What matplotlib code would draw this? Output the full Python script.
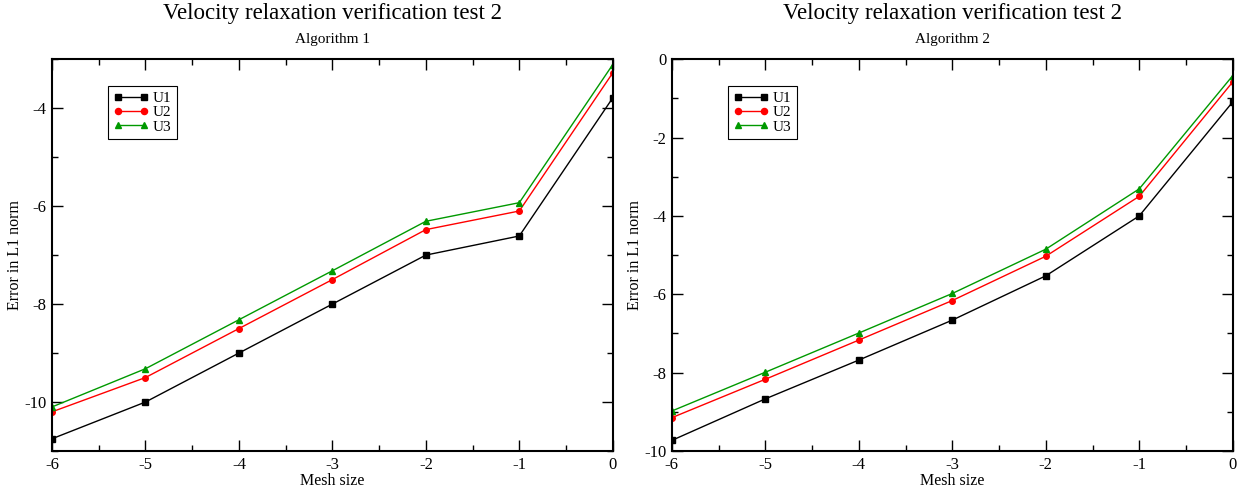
import matplotlib
matplotlib.use("Agg")
from matplotlib import pyplot as plt
from matplotlib.ticker import MultipleLocator

plt.rcParams['font.family'] = ['Liberation Serif', 'DejaVu Serif']
plt.rcParams['axes.unicode_minus'] = False

mesh = [-6, -5, -4, -3, -2, -1, 0]

# Algorithm 1
alg1_u1 = [-10.75, -10.0, -9.0, -8.0, -7.0, -6.61, -3.79]
alg1_u2 = [-10.2, -9.5, -8.5, -7.5, -6.48, -6.1, -3.28]
alg1_u3 = [-10.1, -9.32, -8.32, -7.32, -6.31, -5.93, -3.11]

# Algorithm 2
alg2_u1 = [-9.73, -8.67, -7.68, -6.66, -5.53, -4.0, -1.09]
alg2_u2 = [-9.15, -8.17, -7.17, -6.16, -5.03, -3.5, -0.58]
alg2_u3 = [-8.98, -7.99, -6.99, -5.98, -4.85, -3.31, -0.42]

labels = ["U1", "U2", "U3"]
colors = ["black", "red", "#009900"]
markers = ["s", "o", "^"]


def draw_panel(ax, series, subtitle, ylim):
    for y, lab, c, m in zip(series, labels, colors, markers):
        ax.plot(mesh, y, color=c, marker=m, markersize=4, linewidth=1, label=lab)
    ax.set_xlim(-6, 0)
    ax.set_ylim(*ylim)
    ax.xaxis.set_major_locator(MultipleLocator(1))
    ax.xaxis.set_minor_locator(MultipleLocator(0.5))
    ax.yaxis.set_major_locator(MultipleLocator(2))
    ax.yaxis.set_minor_locator(MultipleLocator(1))
    ax.tick_params(which="both", direction="in", top=True, right=True, labelsize=12, width=1)
    ax.tick_params(which="major", length=8, pad=4)
    ax.tick_params(which="minor", length=4)
    for s in ax.spines.values():
        s.set_linewidth(1.5)
    ax.set_xlabel("Mesh size", fontsize=11.5, labelpad=0)
    ax.set_ylabel("Error in L1 norm", fontsize=11.5, labelpad=0.5)
    ax.annotate(subtitle, xy=(0.5, 1), xycoords="axes fraction", xytext=(0, 14.4),
                textcoords="offset points", ha="center", va="center", fontsize=11)
    ax.annotate("Velocity relaxation verification test 2", xy=(0.5, 1), xycoords="axes fraction",
                xytext=(0, 33), textcoords="offset points", ha="center", va="center", fontsize=16.5)
    leg = ax.legend(loc="upper left", bbox_to_anchor=(0.1, 0.932), borderaxespad=0, numpoints=2,
                    fontsize=11, fancybox=False, edgecolor="black", framealpha=1, handlelength=2.3,
                    handletextpad=0.3, borderpad=0.35, labelspacing=0.05, markerscale=1.1)
    leg.get_frame().set_linewidth(0.8)


fig = plt.figure(figsize=(12.5, 4.96), dpi=100)
ax1 = fig.add_axes([0.0416, 0.0907, 0.4486, 0.79])
ax2 = fig.add_axes([0.5374, 0.0907, 0.4488, 0.79])

draw_panel(ax1, [alg1_u1, alg1_u2, alg1_u3], "Algorithm 1", (-11, -3))
draw_panel(ax2, [alg2_u1, alg2_u2, alg2_u3], "Algorithm 2", (-10, 0))

fig.savefig("out.png", dpi=100)
